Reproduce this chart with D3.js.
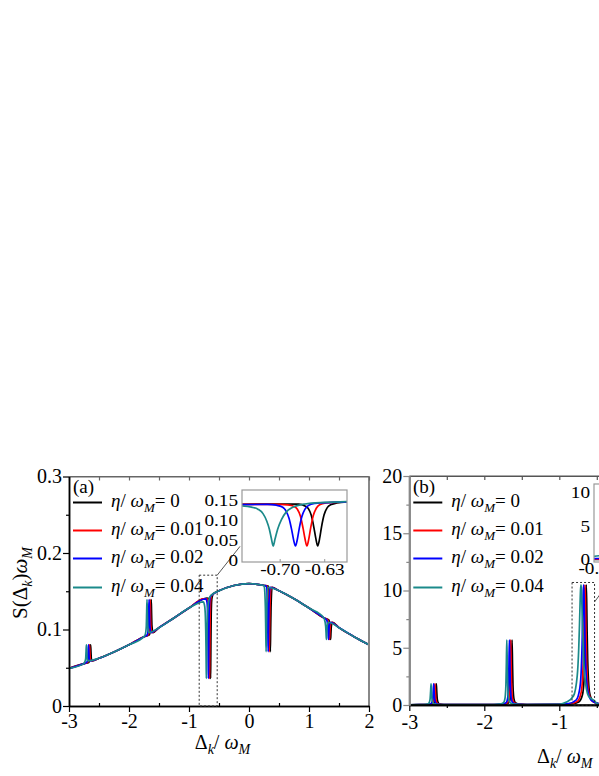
<!DOCTYPE html>
<html>
<head>
<meta charset="utf-8">
<script src="https://cdn.jsdelivr.net/npm/d3@7"></script>
<style>
  body { margin: 0; background: #fff; }
  svg text { font-family: 'Liberation Serif', 'Times New Roman', Times, 'DejaVu Serif', serif !important; fill: #000; }
</style>
</head>
<body>
<svg id="chart" width="599" height="776" font-family="Liberation Serif, Times New Roman, serif"></svg>
<script>
// ---------------- data ----------------
var etaLabels = ["0", "0.01", "0.02", "0.04"];
var lineColors = ["#000000", "#ff0000", "#0000ff", "#1b8a8a"];

// panel (a): smooth background spectrum shared by all curves
var aBaseX = [-3, -2.75, -2.5, -2.25, -2, -1.75, -1.5, -1.25, -1, -0.75, -0.5, -0.25,
              0, 0.25, 0.5, 0.75, 1, 1.25, 1.5, 1.75, 2];
var aBaseY = [0.0492, 0.0554, 0.0624, 0.0706, 0.0800, 0.0906, 0.1024, 0.1151, 0.1280, 0.1403, 0.1506, 0.1575,
              0.1600, 0.1575, 0.1506, 0.1403, 0.1280, 0.1151, 0.1024, 0.0906, 0.0800];

// resonance centres, one row per curve (eta = 0, 0.01, 0.02, 0.04)
var resCenters = [
  [-2.640, -1.630, -0.641, 0.355, 1.360],
  [-2.658, -1.648, -0.658, 0.337, 1.342],
  [-2.675, -1.665, -0.676, 0.320, 1.325],
  [-2.710, -1.700, -0.711, 0.285, 1.290]
];

// narrow features of panel (a), sampled at these offsets from each centre
var featOffsets = [-0.03, -0.012, -0.006, 0, 0.006, 0.012, 0.03];
var aSpike1Y = [0.0570, 0.062, 0.071, 0.080, 0.071, 0.062, 0.0590];
var aSpike2Y = [0.0930, 0.104, 0.122, 0.139, 0.122, 0.105, 0.0960];
var aDip4Y   = [0.1565, 0.128, 0.100, 0.071, 0.100, 0.128, 0.1552];
var aDip5Y   = [0.1125, 0.104, 0.096, 0.087, 0.096, 0.104, 0.1095];

// the dip near -0.65 (shown enlarged in the inset), one array per curve
var dipBlack = [[-0.76, 0.140], [-0.70, 0.141], [-0.671, 0.1405], [-0.661, 0.136], [-0.656, 0.130],
  [-0.651, 0.112], [-0.647, 0.082], [-0.644, 0.055], [-0.641, 0.036], [-0.638, 0.055], [-0.635, 0.084],
  [-0.631, 0.114], [-0.626, 0.132], [-0.621, 0.139], [-0.611, 0.1435], [-0.595, 0.1465]];
var dipRed = [[-0.76, 0.140], [-0.70, 0.140], [-0.688, 0.139], [-0.678, 0.135], [-0.673, 0.128],
  [-0.668, 0.110], [-0.664, 0.080], [-0.661, 0.054], [-0.658, 0.036], [-0.655, 0.054], [-0.652, 0.082],
  [-0.648, 0.112], [-0.643, 0.131], [-0.638, 0.139], [-0.628, 0.1435], [-0.595, 0.1465]];
var dipBlue = [[-0.76, 0.1395], [-0.72, 0.140], [-0.706, 0.138], [-0.696, 0.133], [-0.691, 0.124],
  [-0.686, 0.105], [-0.682, 0.077], [-0.679, 0.052], [-0.676, 0.036], [-0.673, 0.053], [-0.670, 0.080],
  [-0.666, 0.109], [-0.661, 0.128], [-0.656, 0.137], [-0.646, 0.1425], [-0.595, 0.1465]];
var dipTeal = [[-0.76, 0.136], [-0.745, 0.133], [-0.735, 0.128], [-0.727, 0.117], [-0.721, 0.098],
  [-0.717, 0.078], [-0.714, 0.056], [-0.711, 0.036], [-0.708, 0.054], [-0.704, 0.078], [-0.698, 0.102],
  [-0.691, 0.120], [-0.681, 0.132], [-0.661, 0.141], [-0.630, 0.145], [-0.595, 0.147]];
var dipArrays = [dipBlack, dipRed, dipBlue, dipTeal];

// panel (b): background and the three peaks
var bBaseX = [-3, -2.5, -2, -1.5, -1, -0.5, 0, 0.5, 1];
var bBaseY = [0.02, 0.03, 0.03, 0.04, 0.06, 0.08, 0.05, 0.03, 0.03];
var bOffsets = [-0.2, -0.1, -0.05, -0.03, -0.02, -0.012, -0.006, 0, 0.006, 0.012, 0.02, 0.03, 0.05, 0.1, 0.2];
var bPeak1Y = [0.03, 0.04, 0.07, 0.15, 0.28, 0.57, 1.18, 1.85, 1.18, 0.57, 0.28, 0.15, 0.07, 0.04, 0.03];
var bPeak2Y = [0.04, 0.07, 0.17, 0.40, 0.81, 1.77, 3.65, 5.70, 3.65, 1.77, 0.81, 0.40, 0.17, 0.07, 0.04];
var bPeak3Y = [
  [0.08, 0.26, 0.90, 2.12, 3.80, 6.40, 9.05, 10.5, 9.05, 6.40, 3.80, 2.12, 0.90, 0.26, 0.08],
  [0.10, 0.32, 1.12, 2.57, 4.41, 7.01, 9.34, 10.5, 9.34, 7.01, 4.41, 2.57, 1.12, 0.32, 0.10],
  [0.13, 0.43, 1.48, 3.25, 5.26, 7.72, 9.63, 10.5, 9.63, 7.72, 5.26, 3.25, 1.48, 0.43, 0.13],
  [0.23, 0.79, 2.54, 4.91, 6.96, 8.87, 10.04, 10.5, 10.04, 8.87, 6.96, 4.91, 2.54, 0.79, 0.23]
];

// tick values
var aXTicks = [-3, -2, -1, 0, 1, 2];
var aXMinor = [-2.5, -1.5, -0.5, 0.5, 1.5];
var aYTicks = [0, 0.1, 0.2, 0.3];
var aYMinor = [0.05, 0.15, 0.25];
var bXTicks = [-3, -2, -1];
var bXMinor = [-2.5, -1.5, -0.5];
var bYTicks = [0, 5, 10, 15, 20];
var bYMinor = [2.5, 7.5, 12.5, 17.5];
var halfSteps = [-3, -2.5, -2, -1.5, -1, -0.5, 0, 0.5, 1, 1.5, 2];
var insetXTicks = [-0.70, -0.63];
var insetYTicks = [0, 0.05, 0.10, 0.15];
var insetBXTicks = [-0.83];
var insetBYTicks = [0, 5, 10];

// ---------------- helpers ----------------
var FONT = "'Liberation Serif', 'Times New Roman', Times, 'DejaVu Serif', serif";
var svg = d3.select("#chart");
svg.append("rect").attr("width", 599).attr("height", 776).attr("fill", "#fff");
var defs = svg.append("defs");

function buildSeries(baseX, baseY, features) {
  var pts = [];
  baseX.forEach(function (x, j) {
    var inside = features.some(function (f) {
      return x >= f[0][0] && x <= f[f.length - 1][0];
    });
    if (!inside) pts.push([x, baseY[j]]);
  });
  features.forEach(function (f) { pts = pts.concat(f); });
  pts.sort(function (a, b) { return a[0] - b[0]; });
  return pts;
}

function profile(center, offsets, ys) {
  return offsets.map(function (o, j) { return [center + o, ys[j]]; });
}

var seriesA = resCenters.map(function (c, i) {
  return buildSeries(aBaseX, aBaseY, [
    profile(c[0], featOffsets, aSpike1Y),
    profile(c[1], featOffsets, aSpike2Y),
    dipArrays[i],
    profile(c[3], featOffsets, aDip4Y),
    profile(c[4], featOffsets, aDip5Y)
  ]);
});
var seriesB = resCenters.map(function (c, i) {
  return buildSeries(bBaseX, bBaseY, [
    profile(c[0], bOffsets, bPeak1Y),
    profile(c[1], bOffsets, bPeak2Y),
    profile(c[2], bOffsets, bPeak3Y[i])
  ]);
});

function styleAxis(g, color, width) {
  g.attr("font-family", FONT);
  g.select(".domain").attr("stroke", color).attr("stroke-width", width);
  g.selectAll(".tick line").attr("stroke", color).attr("stroke-width", 1.2);
  g.selectAll(".tick text").attr("font-size", 20).attr("fill", "#000").style("font-family", FONT);
}

function drawLines(g, x, y, data, clipId) {
  var line = d3.line()
    .x(function (d) { return x(d[0]); })
    .y(function (d) { return y(d[1]); })
    .curve(d3.curveMonotoneX);
  g.append("g").attr("clip-path", "url(#" + clipId + ")")
    .selectAll("path").data(data).enter().append("path")
    .attr("d", line)
    .attr("fill", "none")
    .attr("stroke", function (d, i) { return lineColors[i]; })
    .attr("stroke-width", 1.7)
    .attr("stroke-linejoin", "round");
}

function addClip(id, x0, y0, w, h) {
  defs.append("clipPath").attr("id", id).append("rect")
    .attr("x", x0).attr("y", y0).attr("width", w).attr("height", h);
}

function legend(g, left, rows) {
  rows.forEach(function (ry, i) {
    g.append("line").attr("x1", left + 4).attr("x2", left + 33)
      .attr("y1", ry).attr("y2", ry)
      .attr("stroke", lineColors[i]).attr("stroke-width", 2);
    var t = g.append("text").attr("x", left + 42).attr("y", ry + 4.5).attr("font-size", 19);
    t.append("tspan").attr("font-style", "italic").text("η");
    t.append("tspan").text("/ ");
    t.append("tspan").attr("font-style", "italic").text("ω");
    t.append("tspan").attr("font-style", "italic").attr("font-size", 13).attr("dy", 5).text("M");
    t.append("tspan").attr("dy", -5).text("= " + etaLabels[i]);
  });
}

function xLabel(g, x0, y0, anchor) {
  var t = g.append("text").attr("x", x0).attr("y", y0).attr("font-size", 20)
    .attr("text-anchor", anchor);
  t.append("tspan").text("Δ");
  t.append("tspan").attr("font-style", "italic").attr("font-size", 14).attr("dy", 5).text("k");
  t.append("tspan").attr("dy", -5).text("/ ");
  t.append("tspan").attr("font-style", "italic").text("ω");
  t.append("tspan").attr("font-style", "italic").attr("font-size", 14).attr("dy", 5).text("M");
}

function stretchedLabel(g, x0, y0, str, anchor) {
  g.append("text")
    .attr("transform", "translate(" + x0 + "," + y0 + ") scale(1.2,1)")
    .attr("font-size", 16).attr("text-anchor", anchor).text(str);
}

var legendRows = [502.5, 530.5, 558.5, 587.5];

// ---------------- panel (a) ----------------
var xa = d3.scaleLinear().domain([-3, 2]).range([69, 369]);
var ya = d3.scaleLinear().domain([0, 0.3]).range([706, 476.5]);
var pa = svg.append("g");
addClip("clipA", 69, 476.5, 300, 229.5);

drawLines(pa, xa, ya, seriesA, "clipA");

// frame: top and right in grey
pa.append("line").attr("x1", xa(-3)).attr("x2", xa(2)).attr("y1", ya(0.3)).attr("y2", ya(0.3))
  .attr("stroke", "#666").attr("stroke-width", 1.2);
pa.append("line").attr("x1", xa(2)).attr("x2", xa(2)).attr("y1", ya(0.3)).attr("y2", ya(0))
  .attr("stroke", "#888").attr("stroke-width", 2);
pa.append("g").attr("transform", "translate(0," + ya(0.3) + ")")
  .call(d3.axisTop(xa).tickValues(halfSteps).tickSize(-4).tickSizeOuter(0).tickFormat(""))
  .call(styleAxis, "#666", 1.2);

pa.append("g").attr("transform", "translate(0," + ya(0) + ")")
  .call(d3.axisBottom(xa).tickValues(aXMinor).tickSize(-3).tickSizeOuter(0).tickFormat(""))
  .call(styleAxis, "#000", 1.5);
pa.append("g").attr("transform", "translate(0," + ya(0) + ")")
  .call(d3.axisBottom(xa).tickValues(aXTicks).tickSize(6).tickPadding(2).tickSizeOuter(0).tickFormat(String))
  .call(styleAxis, "#000", 1.5);
pa.append("g").attr("transform", "translate(" + xa(-3) + ",0)")
  .call(d3.axisLeft(ya).tickValues(aYMinor).tickSize(3).tickSizeOuter(0).tickFormat(""))
  .call(styleAxis, "#000", 1.5);
pa.append("g").attr("transform", "translate(" + xa(-3) + ",0)")
  .call(d3.axisLeft(ya).tickValues(aYTicks).tickSize(6).tickPadding(1).tickSizeOuter(0).tickFormat(String))
  .call(styleAxis, "#000", 1.5);

// axis titles
xLabel(pa, 222.5, 749, "middle");
var yt = pa.append("text").attr("transform", "translate(27,583) rotate(-90)")
  .attr("font-size", 21).attr("text-anchor", "middle");
yt.append("tspan").text("S(Δ");
yt.append("tspan").attr("font-style", "italic").attr("font-size", 14).attr("dy", 5).text("k");
yt.append("tspan").attr("dy", -5).text(")");
yt.append("tspan").attr("font-style", "italic").text("ω");
yt.append("tspan").attr("font-style", "italic").attr("font-size", 14).attr("dy", 5).text("M");

pa.append("text").attr("x", 73).attr("y", 493).attr("font-size", 19).text("(a)");
legend(pa, 69, legendRows);

// dashed zoom box
pa.append("rect").attr("x", xa(-0.83)).attr("y", ya(0.171))
  .attr("width", xa(-0.53) - xa(-0.83)).attr("height", ya(0) - ya(0.171))
  .attr("fill", "none").attr("stroke", "#333").attr("stroke-width", 1).attr("stroke-dasharray", "2,2");

// inset of panel (a)
var xi = d3.scaleLinear().domain([-0.76, -0.595]).range([242, 347]);
var yi = d3.scaleLinear().domain([-0.004, 0.176]).range([562, 490]);
pa.append("line").attr("x1", xa(-0.53)).attr("y1", ya(0.171))
  .attr("x2", xi(-0.76) - 2).attr("y2", yi(0.035))
  .attr("stroke", "#555").attr("stroke-width", 1);
var ins = pa.append("g");
ins.append("rect").attr("x", 242).attr("y", 490).attr("width", 105).attr("height", 72).attr("fill", "#fff");
addClip("clipI", 242, 490, 105, 72);
drawLines(ins, xi, yi, dipArrays, "clipI");
ins.append("rect").attr("x", 242).attr("y", 490).attr("width", 105).attr("height", 72)
  .attr("fill", "none").attr("stroke", "#999").attr("stroke-width", 1.2);
insetYTicks.forEach(function (v) {
  stretchedLabel(ins, 238, yi(v) + 5.5, v === 0 ? "0" : v.toFixed(2), "end");
});
insetXTicks.forEach(function (v) {
  stretchedLabel(ins, xi(v), 575, v.toFixed(2), "middle");
  ins.append("line").attr("x1", xi(v)).attr("x2", xi(v)).attr("y1", 562).attr("y2", 559)
    .attr("stroke", "#999");
});

// ---------------- panel (b) ----------------
var xb = d3.scaleLinear().domain([-3, 1]).range([409.3, 709.3]);
var yb = d3.scaleLinear().domain([0, 20]).range([705, 476]);
var pb = svg.append("g");
addClip("clipB", 409.3, 476, 300, 229);

drawLines(pb, xb, yb, seriesB, "clipB");

pb.append("line").attr("x1", xb(-3)).attr("x2", xb(1)).attr("y1", yb(20)).attr("y2", yb(20))
  .attr("stroke", "#555").attr("stroke-width", 1.2);
pb.append("g").attr("transform", "translate(0," + yb(20) + ")")
  .call(d3.axisTop(xb).tickValues(halfSteps.slice(0, 9)).tickSize(-4).tickSizeOuter(0).tickFormat(""))
  .call(styleAxis, "#555", 1.2);
pb.append("g").attr("transform", "translate(0," + yb(0) + ")")
  .call(d3.axisBottom(xb).tickValues(bXMinor).tickSize(3).tickSizeOuter(0).tickFormat(""))
  .call(styleAxis, "#000", 1.5);
pb.append("line").attr("x1", xb(-3)).attr("x2", xb(1)).attr("y1", yb(0)).attr("y2", yb(0))
  .attr("stroke", "#000").attr("stroke-width", 1.5);
pb.append("g").attr("transform", "translate(0," + yb(0) + ")")
  .call(d3.axisBottom(xb).tickValues(bXTicks).tickSize(6).tickPadding(4).tickSizeOuter(0).tickFormat(String))
  .call(styleAxis, "#000", 1.5);
pb.append("g").attr("transform", "translate(" + xb(-3) + ",0)")
  .call(d3.axisLeft(yb).tickValues(bYMinor).tickSize(3).tickSizeOuter(0).tickFormat(""))
  .call(styleAxis, "#888", 2);
pb.append("g").attr("transform", "translate(" + xb(-3) + ",0)")
  .call(d3.axisLeft(yb).tickValues(bYTicks).tickSize(6).tickPadding(1).tickSizeOuter(0).tickFormat(String))
  .call(styleAxis, "#888", 2);

xLabel(pb, 537, 763, "start");
pb.append("text").attr("x", 413).attr("y", 493).attr("font-size", 19).text("(b)");
legend(pb, 409.3, legendRows);

pb.append("rect").attr("x", xb(-0.83)).attr("y", yb(10.7))
  .attr("width", xb(-0.53) - xb(-0.83)).attr("height", yb(0) - yb(10.7))
  .attr("fill", "none").attr("stroke", "#333").attr("stroke-width", 1).attr("stroke-dasharray", "2,2");

// inset of panel (b), mostly outside the picture
var xib = d3.scaleLinear().domain([-0.84, -0.60]).range([594, 700]);
var yib = d3.scaleLinear().domain([-0.3, 11.26]).range([562, 484]);
pb.append("line").attr("x1", xb(-0.53)).attr("y1", yb(9.0))
  .attr("x2", xib(-0.77)).attr("y2", yib(0))
  .attr("stroke", "#555").attr("stroke-width", 1);
var insb = pb.append("g");
insb.append("rect").attr("x", 594).attr("y", 484).attr("width", 106).attr("height", 78).attr("fill", "#fff");
addClip("clipIB", 594, 484, 106, 78);
drawLines(insb, xib, yib, seriesB, "clipIB");
insb.append("rect").attr("x", 594).attr("y", 484).attr("width", 106).attr("height", 78)
  .attr("fill", "none").attr("stroke", "#999").attr("stroke-width", 1.2);
insetBYTicks.forEach(function (v) {
  stretchedLabel(insb, 590, yib(v) + 5.5, String(v), "end");
});
insetBXTicks.forEach(function (v) {
  stretchedLabel(insb, xib(v), 574, v.toFixed(2), "middle");
});
</script>
</body>
</html>
